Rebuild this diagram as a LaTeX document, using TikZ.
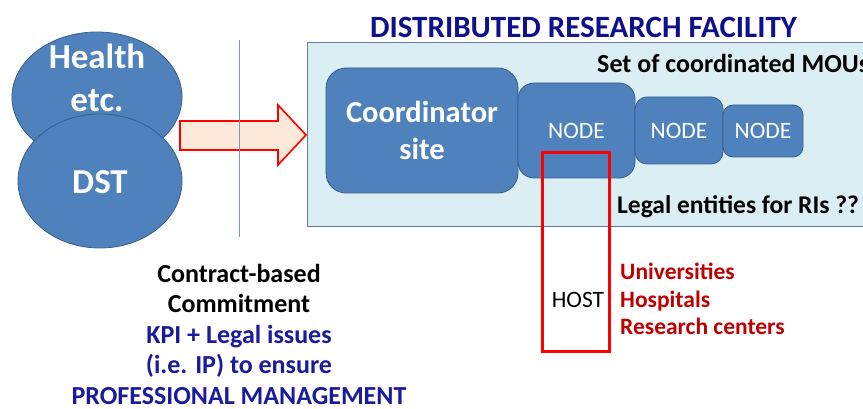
\documentclass[tikz,border=0pt]{standalone}
\usepackage{fontspec}
\setmainfont{Carlito}
\usetikzlibrary{shapes.geometric}
\definecolor{drfblue}{HTML}{4F81BD}
\definecolor{drfedge}{HTML}{385D8A}
\definecolor{drfpale}{HTML}{DAEEF3}
\definecolor{drfnavy}{HTML}{10108C}
\definecolor{drfink}{HTML}{1A1A9C}
\definecolor{drfred}{HTML}{C00000}
\definecolor{drfpeach}{HTML}{FDE9D9}
\tikzset{
  blob/.style={ellipse, fill=drfblue, draw=drfedge, line width=0.8pt},
  sitebox/.style={rectangle, fill=drfblue, draw=drfedge, line width=0.8pt, text=white},
  hostbox/.style={rectangle, draw=red, line width=3pt}
}
\newcommand{\fs}[2]{\fontsize{#1}{#2}\selectfont}

\begin{document}
\begin{tikzpicture}[x=1pt, y=-1pt, every node/.style={inner sep=0pt, align=center}]

  \useasboundingbox (0,0) rectangle (863,409);
  \clip (0,0) rectangle (863,409);
  \fill[white] (0,0) rectangle (863,409);

  % ---- Funding bodies (left) ----
  \node[blob, minimum width=170pt, minimum height=130pt] (health) at (97,97) {};
  \node[blob, minimum width=164pt, minimum height=134pt] (dst) at (100,181) {};
  \node[text=white, font=\fs{35}{43}\bfseries] (healthtxt) at (97,78) {Health\\etc.};
  \node[text=white, font=\fs{35}{38}\bfseries] (dsttxt) at (100,182) {DST};

  % ---- Block arrow ----
  \draw[red, line width=1.6pt, fill=drfpeach]
    (180,121) -- (278,121) -- (278,105) -- (306,135) -- (278,165) -- (278,150) -- (180,150) -- cycle;

  % ---- Divider ----
  \draw[drfblue!80, line width=0.9pt] (239,40) -- (239,237);

  % ---- Facility panel ----
  \fill[drfpale] (307,43) rectangle (880,227);
  \draw[drfedge!80, line width=1pt] (307,43) rectangle (880,227);
  \node[text=drfnavy, font=\fs{31}{33}\bfseries] (title) at (583.5,27) {DISTRIBUTED RESEARCH FACILITY};
  \node[anchor=west, font=\fs{26}{28}\bfseries] (mous) at (597,63) {Set of coordinated MOUs};
  \node[anchor=west, font=\fs{25.5}{28}\bfseries] (legal) at (617,207) {Legal entities for RIs ??};

  % ---- Sites ----
  \node[sitebox, rounded corners=20pt, minimum width=192pt, minimum height=125pt, font=\fs{30.5}{37}\bfseries] (coord) at (422,130.5) {Coordinator\\site};
  \node[sitebox, rounded corners=16pt, minimum width=117pt, minimum height=95pt, font=\fs{23.5}{26}] (nodeA) at (576.5,130.5) {NODE};
  \node[sitebox, rounded corners=12pt, minimum width=88pt, minimum height=67pt, font=\fs{23.5}{26}] (nodeB) at (679,130.5) {NODE};
  \node[sitebox, rounded corners=10pt, minimum width=80pt, minimum height=52pt, font=\fs{23.5}{26}] (nodeC) at (763,131) {NODE};

  % ---- Host ----
  \node[hostbox, minimum width=67pt, minimum height=198pt] (host) at (575.5,252) {};
  \node[font=\fs{23.5}{26}] (hosttxt) at (578,300) {HOST};
  \node[anchor=west, align=left, text=drfred, font=\fs{23.5}{27.5}\bfseries] (hosts) at (620,299) {Universities\\Hospitals\\Research centers};

  % ---- Commitment ----
  \node[font=\fs{26}{30.5}\bfseries] (contract) at (239,334)
    {Contract-based\\Commitment\\\textcolor{drfink}{KPI + Legal issues}\\\textcolor{drfink}{(i.e. IP) to ensure}\\\textcolor{drfink}{PROFESSIONAL MANAGEMENT}};

\end{tikzpicture}
\end{document}
